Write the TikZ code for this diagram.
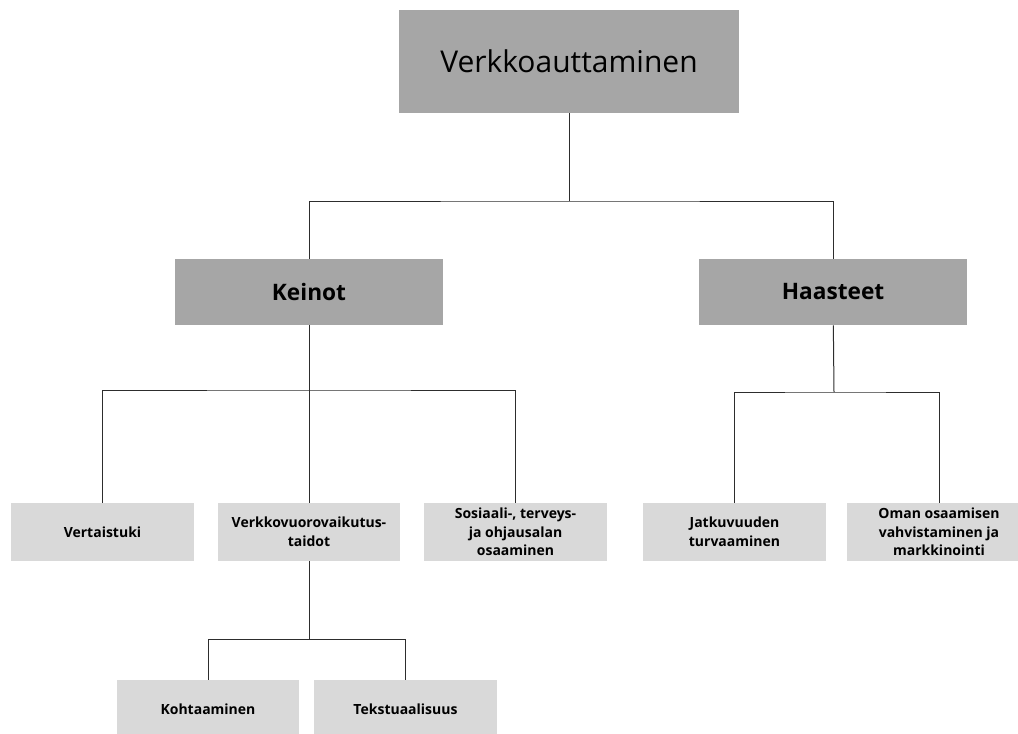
\documentclass[tikz,border=0pt]{standalone}
\usepackage{fontspec}
\setmainfont{Open Sans}
\usepackage{tikz}

\definecolor{darkbox}{RGB}{166,166,166}
\definecolor{lightbox}{RGB}{217,217,217}
\definecolor{linegray}{RGB}{45,45,45}

\begin{document}
\begin{tikzpicture}[x=0.75pt,y=-0.75pt,
    rootbox/.style={fill=darkbox, minimum width=255pt, minimum height=77pt, inner sep=0pt,
        font=\fontsize{22.5}{26}\selectfont},
    mainbox/.style={fill=darkbox, minimum width=201pt, minimum height=49.5pt, inner sep=0pt,
        font=\bfseries\fontsize{17}{20}\selectfont},
    subbox/.style={fill=lightbox, minimum width=137pt, minimum height=43.5pt, inner sep=0pt,
        align=center, font=\bfseries\fontsize{10.5}{14}\selectfont},
    conn/.style={draw=linegray, line width=0.75pt}
]

\useasboundingbox (0,0) rectangle (1018,733);

% Top level
\node[rootbox] (root) at (569,61.5) {Verkkoauttaminen};

% Second level
\node[mainbox] (keinot) at (309,292) {Keinot};
\node[mainbox] (haasteet) at (833,292) {Haasteet};

% Third level
\node[subbox] (vertaistuki) at (102.5,532) {Vertaistuki};
\node[subbox] (verkko) at (309,532) {Verkkovuorovaikutus-\\taidot};
\node[subbox] (sosiaali) at (515.5,532) {Sosiaali-, terveys-\\ja ohjausalan\\osaaminen};
\node[subbox] (jatkuvuus) at (734.5,532) {Jatkuvuuden\\turvaaminen};
\node[subbox, minimum width=138pt] (oman) at (939,532) {Oman osaamisen\\vahvistaminen ja\\markkinointi};

% Fourth level
\node[subbox] (kohtaaminen) at (208,709) {Kohtaaminen};
\node[subbox] (teksti) at (405.5,709) {Tekstuaalisuus};

% Connectors
\coordinate (j1) at (569,201);
\coordinate (j2) at (309,390);
\coordinate (j3) at (834,392);
\coordinate (j4) at (309,639);

\draw[conn] (root) -- (j1);
\draw[conn] (keinot.north) |- (j1) -| (haasteet.north);

\draw[conn] (keinot) -- (verkko);
\draw[conn] (vertaistuki.north) |- (j2) -| (sosiaali.north);

\draw[conn] (haasteet) -- (j3);
\draw[conn] (jatkuvuus.north) |- (j3) -| (oman.north);

\draw[conn] (verkko) -- (j4);
\draw[conn] (kohtaaminen.north) |- (j4) -| (teksti.north);

\end{tikzpicture}
\end{document}
